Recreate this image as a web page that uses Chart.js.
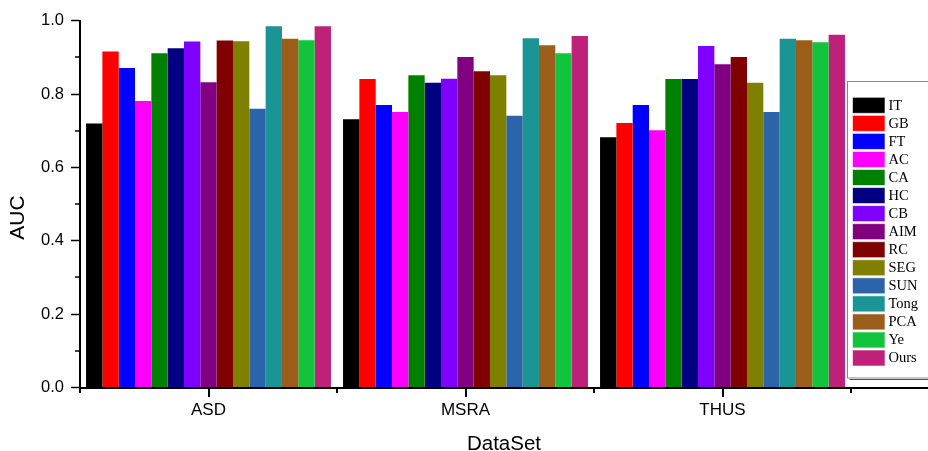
<!DOCTYPE html>
<html>
<head>
<meta charset="utf-8">
<script src="https://cdn.jsdelivr.net/npm/chart.js@4/dist/chart.umd.min.js"></script>
<style>
  html, body { margin: 0; padding: 0; background: #fff; }
  #wrap { width: 928px; height: 451px; position: relative; }
</style>
</head>
<body>
<div id="wrap"><canvas id="c" width="928" height="451"></canvas></div>
<script>
const categories = ['ASD', 'MSRA', 'THUS'];
const methods = ['IT', 'GB', 'FT', 'AC', 'CA', 'HC', 'CB', 'AIM', 'RC', 'SEG', 'SUN', 'Tong', 'PCA', 'Ye', 'Ours'];
const colors = ['#000000', '#FF0000', '#0000FF', '#FF00FF', '#008000', '#000080', '#8000FF', '#800080',
                '#800000', '#808000', '#2B64A8', '#1A9494', '#9A5E1A', '#12C43C', '#BE207A'];
const asdAUC  = [0.720, 0.916, 0.871, 0.781, 0.911, 0.925, 0.943, 0.832, 0.946, 0.944, 0.760, 0.985, 0.951, 0.947, 0.985];
const msraAUC = [0.731, 0.841, 0.770, 0.751, 0.851, 0.831, 0.842, 0.901, 0.862, 0.851, 0.741, 0.952, 0.933, 0.911, 0.958];
const thusAUC = [0.682, 0.721, 0.770, 0.701, 0.841, 0.841, 0.931, 0.881, 0.901, 0.831, 0.751, 0.951, 0.947, 0.941, 0.962];
const yTicks = [0.0, 0.2, 0.4, 0.6, 0.8, 1.0];
const yMinorTicks = [0.1, 0.3, 0.5, 0.7, 0.9];
const xTitle = 'DataSet';
const yTitle = 'AUC';

const datasets = methods.map((m, i) => ({
  label: m,
  data: [asdAUC[i], msraAUC[i], thusAUC[i]],
  backgroundColor: colors[i],
  borderWidth: 0,
  categoryPercentage: 0.953,
  barPercentage: 1.0
}));

const SANS = '"Liberation Sans", Arial, sans-serif';
const SERIF = '"Liberation Serif", "Times New Roman", serif';

const extras = {
  id: 'extras',
  afterDraw(chart) {
    const ctx = chart.ctx;
    const x = chart.scales.x, y = chart.scales.y;
    const area = chart.chartArea;
    const y0 = Math.round(y.getPixelForValue(0));
    ctx.save();
    ctx.fillStyle = '#000';
    // minor y ticks
    yMinorTicks.forEach(v => {
      const py = Math.round(y.getPixelForValue(v));
      ctx.fillRect(area.left - 5, py - 0.75, 5, 1.5);
    });
    // category centre ticks (long) and boundary ticks (short)
    const n = categories.length;
    for (let i = 0; i < n; i++) {
      const px = Math.round(x.getPixelForValue(i));
      ctx.fillRect(px - 1, y0, 2, 9);
    }
    const step = (area.right - area.left) / n;
    for (let i = 0; i <= n; i++) {
      const px = Math.round(area.left + i * step);
      ctx.fillRect(px - 1, y0, 2, 5);
    }
    // x axis line extension to the right edge
    ctx.fillRect(area.right, y0 - 1, chart.width - area.right, 2);

    // legend box
    const lx = 847.5, ly = 81.5, lw = 100, lh = 296.5;
    ctx.fillStyle = '#fff';
    ctx.fillRect(lx, ly, lw, lh);
    ctx.lineWidth = 1;
    ctx.strokeStyle = '#8a8a8a';
    ctx.strokeRect(lx, ly, lw, lh);
    ctx.strokeStyle = '#555';
    ctx.beginPath(); ctx.moveTo(lx + 2, ly + lh + 1.5); ctx.lineTo(chart.width, ly + lh + 1.5); ctx.stroke();
    ctx.font = '14.5px ' + SERIF;
    ctx.textAlign = 'left';
    ctx.textBaseline = 'middle';
    methods.forEach((m, i) => {
      const top = 97.3 + i * 18.05;
      ctx.fillStyle = colors[i];
      ctx.fillRect(852.5, top, 32.5, 16);
      ctx.strokeStyle = 'rgba(255,255,255,0.6)';
      ctx.strokeRect(852.5, top, 32.5, 16);
      ctx.fillStyle = '#000';
      ctx.fillText(m, 888.5, top + 8.5);
    });

    // axis titles
    ctx.fillStyle = '#000';
    ctx.font = '20.5px ' + SANS;
    ctx.textAlign = 'center';
    ctx.textBaseline = 'alphabetic';
    ctx.fillText(xTitle, 504, 450);
    ctx.save();
    ctx.translate(24, 217.5);
    ctx.rotate(-Math.PI / 2);
    ctx.font = '21px ' + SANS;
    ctx.textAlign = 'center';
    ctx.textBaseline = 'alphabetic';
    ctx.fillText(yTitle, 0, 0);
    ctx.restore();
    ctx.restore();
  }
};

new Chart(document.getElementById('c'), {
  type: 'bar',
  data: { labels: categories, datasets },
  options: {
    responsive: false,
    animation: false,
    devicePixelRatio: 1,
    layout: { padding: { left: 0, right: 77, top: 20.7, bottom: 0 } },
    plugins: { legend: { display: false }, tooltip: { enabled: false } },
    scales: {
      x: {
        offset: true,
        grid: { offset: false, drawOnChartArea: false, drawTicks: true, tickLength: 9, tickWidth: 1.5, tickColor: 'rgba(0,0,0,0)' },
        border: { display: true, color: '#000', width: 2 },
        ticks: { color: '#000', font: { family: SANS, size: 17 }, padding: 4, maxRotation: 0 },
        afterFit(s) { s.height = 63.5; }
      },
      y: {
        min: 0, max: 1.0,
        afterBuildTicks(s) { s.ticks = yTicks.map(v => ({ value: v })); },
        grid: { drawOnChartArea: false, drawTicks: true, tickLength: 9, tickWidth: 1.5, tickColor: '#000' },
        border: { display: true, color: '#000', width: 2 },
        ticks: { color: '#000', font: { family: SANS, size: 16.5 }, padding: 7, callback: v => Number(v).toFixed(1) },
        afterFit(s) { s.width = 80; }
      }
    }
  },
  plugins: [extras]
});
</script>
</body>
</html>
